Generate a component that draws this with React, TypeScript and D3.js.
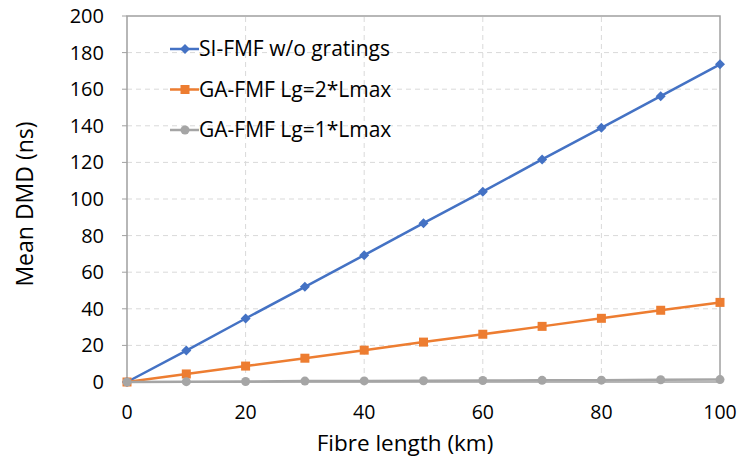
import React from "react";
import * as d3 from "d3";

const lengths = [0, 10, 20, 30, 40, 50, 60, 70, 80, 90, 100];
const siFmf = [0, 17.2, 34.7, 52, 69.3, 86.8, 104, 121.6, 138.9, 156.2, 173.6];
const gaFmf2 = [0, 4.4, 8.7, 13, 17.4, 21.8, 26.1, 30.4, 34.8, 39.2, 43.5];
const gaFmf1 = [0, 0.2, 0.3, 0.5, 0.6, 0.7, 0.8, 0.9, 1.0, 1.2, 1.3];
const xTicks = [0, 20, 40, 60, 80, 100];
const yTicks = [0, 20, 40, 60, 80, 100, 120, 140, 160, 180, 200];

const series = [
  { name: "SI-FMF w/o gratings", values: siFmf, color: "#4472c4", marker: "diamond" },
  { name: "GA-FMF Lg=2*Lmax", values: gaFmf2, color: "#ed7d31", marker: "square" },
  { name: "GA-FMF Lg=1*Lmax", values: gaFmf1, color: "#a5a5a5", marker: "circle" },
];

const W = 739;
const H = 462;
const margin = { left: 127, right: 19, top: 16, bottom: 80 };
const font = "Open Sans, Noto Sans, sans-serif";

function Marker({ type, x, y, color }: { type: string; x: number; y: number; color: string }) {
  if (type === "diamond") {
    return <path d={`M${x},${y - 5}L${x + 5},${y}L${x},${y + 5}L${x - 5},${y}Z`} fill={color} />;
  }
  if (type === "square") {
    return <rect x={x - 4.5} y={y - 4.5} width={9} height={9} fill={color} />;
  }
  return <circle cx={x} cy={y} r={4.5} fill={color} />;
}

export default function App() {
  const x = d3.scaleLinear().domain([0, 100]).range([margin.left, W - margin.right]);
  const y = d3.scaleLinear().domain([0, 200]).range([H - margin.bottom, margin.top]);

  const line = d3
    .line<number>()
    .x((_, i) => x(lengths[i]))
    .y(d => y(d));

  return (
    <svg width={W} height={H} style={{ position: "absolute", left: 0, top: 0, background: "#fff" }}>
      {/* gridlines */}
      {yTicks.slice(1, -1).map(t => (
        <line key={"gy" + t} x1={x(0)} x2={x(100)} y1={y(t)} y2={y(t)}
          stroke="#d9d9d9" strokeWidth={1} strokeDasharray="5,4" />
      ))}
      {xTicks.slice(1, -1).map(t => (
        <line key={"gx" + t} x1={x(t)} x2={x(t)} y1={y(0)} y2={y(200)}
          stroke="#d9d9d9" strokeWidth={1} strokeDasharray="5,4" />
      ))}
      {/* y axis tick marks */}
      {yTicks.map(t => (
        <line key={"ty" + t} x1={x(0) - 5} x2={x(0)} y1={y(t)} y2={y(t)} stroke="#a0a0a0" />
      ))}
      {/* frame */}
      <rect x={x(0)} y={y(200)} width={x(100) - x(0)} height={y(0) - y(200)}
        fill="none" stroke="#a0a0a0" strokeWidth={1.5} />

      {/* tick labels */}
      {yTicks.map(t => (
        <text key={"ly" + t} x={x(0) - 23} y={y(t)} dy="0.35em" textAnchor="end"
          fontFamily={font} fontSize={20} fill="#000">{t}</text>
      ))}
      {xTicks.map(t => (
        <text key={"lx" + t} x={x(t)} y={y(0) + 30} dy="0.35em" textAnchor="middle"
          fontFamily={font} fontSize={19.5} fill="#000">{t}</text>
      ))}

      {/* axis titles */}
      <text x={405} y={451} textAnchor="middle" fontFamily={font} fontSize={22.5} fill="#000">
        Fibre length (km)
      </text>
      <text transform={`translate(33,204) rotate(-90)`} textAnchor="middle"
        fontFamily={font} fontSize={23} fill="#000">
        Mean DMD (ns)
      </text>

      {/* series */}
      {series.map(s => (
        <g key={s.name}>
          <path d={line(s.values) || ""} fill="none" stroke={s.color} strokeWidth={2.5} />
          {s.values.map((v, i) => (
            <Marker key={i} type={s.marker} x={x(lengths[i])} y={y(v)} color={s.color} />
          ))}
        </g>
      ))}

      {/* legend */}
      {series.map((s, i) => {
        const ly = 49 + i * 40.5;
        return (
          <g key={"lg" + s.name}>
            <line x1={170} x2={199} y1={ly} y2={ly} stroke={s.color} strokeWidth={2.5} />
            <Marker type={s.marker} x={185} y={ly} color={s.color} />
            <text x={199} y={ly} dy="0.35em" fontFamily={font} fontSize={21} fill="#000">{s.name}</text>
          </g>
        );
      })}
    </svg>
  );
}
